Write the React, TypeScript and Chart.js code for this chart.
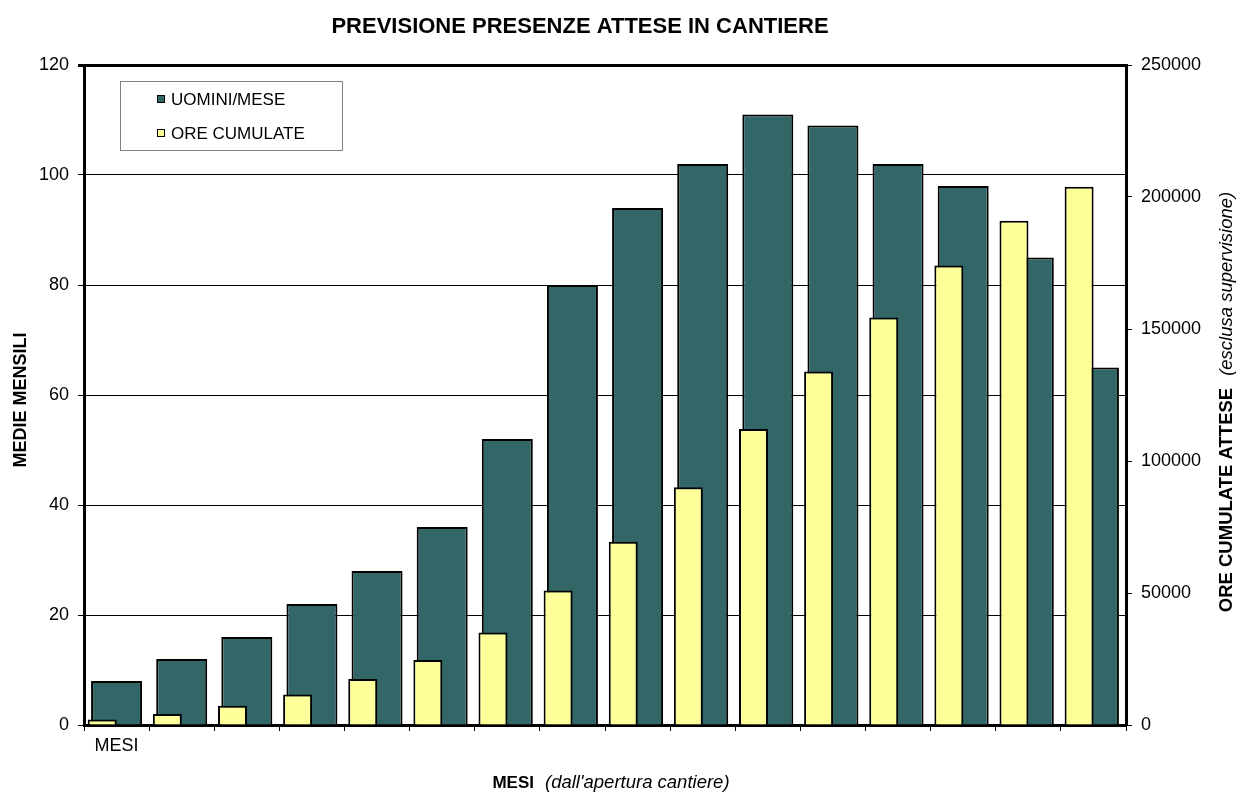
import React, { useEffect, useRef } from 'react';
import { Chart, registerables } from 'chart.js';

Chart.register(...registerables);

// ---- data ----
const MONTHS = ['MESI', '', '', '', '', '', '', '', '', '', '', '', '', '', '', ''];
const UOMINI_MESE = [8, 12, 16, 22, 28, 36, 52, 80, 94, 102, 111, 109, 102, 98, 85, 65];
const ORE_CUMULATE = [2100, 4200, 7300, 11600, 17400, 24600, 35000, 50900, 69400, 90100, 112100, 133900, 154400, 174100, 191000, 203900];
const LEFT_TICKS = [0, 20, 40, 60, 80, 100, 120];
const RIGHT_TICKS = [0, 50000, 100000, 150000, 200000, 250000];
const SERIES_NAMES = ['UOMINI/MESE', 'ORE CUMULATE'];
const TITLE = 'PREVISIONE PRESENZE ATTESE IN CANTIERE';
const Y_TITLE = 'MEDIE MENSILI';
const Y2_TITLE_BOLD = 'ORE CUMULATE ATTESE';
const Y2_TITLE_ITALIC = '(esclusa supervisione)';
const X_TITLE_BOLD = 'MESI';
const X_TITLE_ITALIC = "(dall'apertura cantiere)";

const TEAL = '#336666';
const YELLOW = '#FFFF99';
const FONT = '"Liberation Sans", Arial, sans-serif';
// fraction of a category by which the yellow series is shifted to the left
const YELLOW_SHIFT = 0.22;

function drawMixed(
  ctx: CanvasRenderingContext2D,
  bold: string,
  boldSize: number,
  italic: string,
  italicSize: number,
  gap: number
) {
  ctx.font = `bold ${boldSize}px ${FONT}`;
  const wb = ctx.measureText(bold).width;
  ctx.font = `italic ${italicSize}px ${FONT}`;
  const wi = ctx.measureText(italic).width;
  const total = wb + gap + wi;
  const start = -total / 2;
  ctx.textAlign = 'left';
  ctx.textBaseline = 'alphabetic';
  ctx.font = `bold ${boldSize}px ${FONT}`;
  ctx.fillText(bold, start, 0);
  ctx.font = `italic ${italicSize}px ${FONT}`;
  ctx.fillText(italic, start + wb + gap, 0);
}

const textPlugin = {
  id: 'customTexts',
  afterDraw(chart: any) {
    const ctx: CanvasRenderingContext2D = chart.ctx;
    const a = chart.chartArea;
    ctx.save();
    ctx.fillStyle = '#000';

    // main title
    ctx.font = `bold 22px ${FONT}`;
    ctx.textAlign = 'center';
    ctx.textBaseline = 'alphabetic';
    ctx.fillText(TITLE, a.left + 496, 33);

    // left axis title
    ctx.save();
    ctx.translate(26, (a.top + a.bottom) / 2 + 5);
    ctx.rotate(-Math.PI / 2);
    ctx.font = `bold 18px ${FONT}`;
    ctx.textAlign = 'center';
    ctx.textBaseline = 'alphabetic';
    ctx.fillText(Y_TITLE, 0, 0);
    ctx.restore();

    // right axis title
    ctx.save();
    ctx.translate(a.right + 106, (a.top + a.bottom) / 2 + 7);
    ctx.rotate(-Math.PI / 2);
    drawMixed(ctx, Y2_TITLE_BOLD, 18.5, Y2_TITLE_ITALIC, 18.5, 12);
    ctx.restore();

    // bottom axis title
    ctx.save();
    ctx.translate((a.left + a.right) / 2 + 6, 788);
    drawMixed(ctx, X_TITLE_BOLD, 17, X_TITLE_ITALIC, 18.5, 11);
    ctx.restore();

    // legend box
    const lx = a.left + 36;
    const ly = a.top + 16;
    const lw = 222;
    const lh = 69;
    ctx.fillStyle = '#fff';
    ctx.fillRect(lx, ly, lw, lh);
    ctx.strokeStyle = '#808080';
    ctx.lineWidth = 1;
    ctx.strokeRect(lx + 0.5, ly + 0.5, lw, lh);
    const colors = [TEAL, YELLOW];
    SERIES_NAMES.forEach((name, i) => {
      const cy = ly + 18 + i * 34;
      ctx.fillStyle = colors[i];
      ctx.fillRect(lx + 37, cy - 4, 8, 8);
      ctx.strokeStyle = '#000';
      ctx.lineWidth = 1;
      ctx.strokeRect(lx + 37.5, cy - 3.5, 7, 7);
      ctx.fillStyle = '#000';
      ctx.font = `17px ${FONT}`;
      ctx.textAlign = 'left';
      ctx.textBaseline = 'middle';
      ctx.fillText(name, lx + 51, cy + 1);
    });
    ctx.restore();
  },
};

export default function App() {
  const ref = useRef<HTMLCanvasElement>(null);
  useEffect(() => {
    document.body.style.margin = '0';
    const canvas = ref.current;
    if (!canvas) return;
    Chart.defaults.font.family = FONT;
    const chart = new Chart(canvas, {
      type: 'bar',
      data: {
        labels: MONTHS,
        datasets: [
          {
            label: SERIES_NAMES[0],
            data: UOMINI_MESE,
            backgroundColor: TEAL,
            borderColor: '#000',
            borderWidth: 2,
            xAxisID: 'x',
            yAxisID: 'y',
            grouped: false,
            barPercentage: 0.783,
            categoryPercentage: 1,
            order: 2,
          },
          {
            label: SERIES_NAMES[1],
            data: ORE_CUMULATE.map((v, i) => ({ x: i, y: v })),
            backgroundColor: YELLOW,
            borderColor: '#000',
            borderWidth: 2,
            xAxisID: 'x2',
            yAxisID: 'y2',
            grouped: false,
            barPercentage: 0.445,
            categoryPercentage: 1,
            order: 1,
          },
        ],
      },
      options: {
        responsive: false,
        animation: false,
        devicePixelRatio: 1,
        layout: { padding: { top: 65, left: 0, right: 0, bottom: 0 } },
        plugins: {
          legend: { display: false },
          title: { display: false },
          tooltip: { enabled: false },
        },
        scales: {
          x: {
            type: 'category',
            position: 'bottom',
            offset: true,
            grid: { offset: true, drawOnChartArea: false, drawTicks: true, tickLength: 6, color: '#000', lineWidth: 1 },
            border: { display: true, color: '#000', width: 3 },
            ticks: { color: '#000', font: { size: 18 }, padding: 4, autoSkip: false, maxRotation: 0 },
            afterFit: (s: any) => { s.height = 68; },
          },
          x2: {
            type: 'linear',
            display: false,
            offset: false,
            min: -0.5 + YELLOW_SHIFT,
            max: MONTHS.length - 0.5 + YELLOW_SHIFT,
            afterBuildTicks: (s: any) => { s.ticks = MONTHS.map((_, i) => ({ value: i })); },
          },
          y: {
            position: 'left',
            min: 0,
            max: 120,
            afterBuildTicks: (s: any) => { s.ticks = LEFT_TICKS.map((v) => ({ value: v })); },
            grid: {
              color: '#000',
              lineWidth: (c: any) => (c.tick && c.tick.value === 120 ? 3 : 1),
              drawTicks: true,
              tickLength: 6,
            },
            border: { display: true, color: '#000', width: 3 },
            ticks: { color: '#000', font: { size: 18 }, padding: 9 },
            afterFit: (s: any) => { s.width = 84; },
          },
          y2: {
            position: 'right',
            min: 0,
            max: 250000,
            afterBuildTicks: (s: any) => { s.ticks = RIGHT_TICKS.map((v) => ({ value: v })); },
            grid: { drawOnChartArea: false, drawTicks: true, tickLength: 6, color: '#000' },
            border: { display: true, color: '#000', width: 3 },
            ticks: { color: '#000', font: { size: 18 }, padding: 9, callback: (v: any) => String(v) },
            afterFit: (s: any) => { s.width = 111; },
          },
        },
      },
      plugins: [textPlugin],
    } as any);
    return () => chart.destroy();
  }, []);
  return (
    <div style={{ width: 1237, height: 793, background: '#fff' }}>
      <canvas ref={ref} width={1237} height={793} style={{ display: 'block' }} />
    </div>
  );
}
